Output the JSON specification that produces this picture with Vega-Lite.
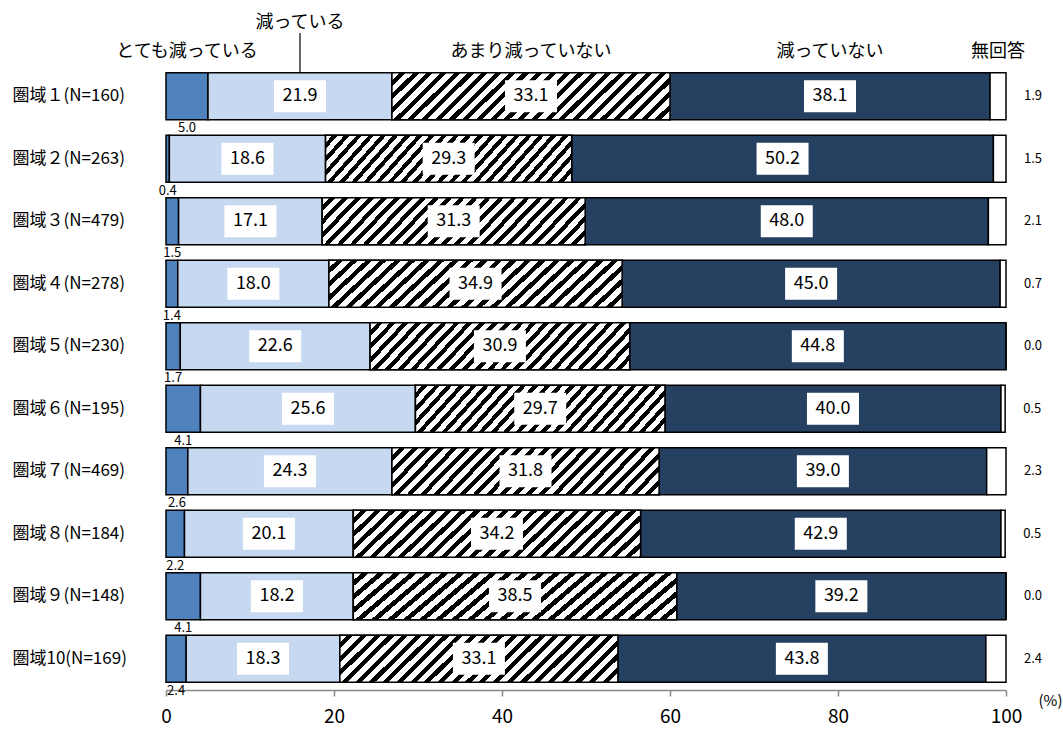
{
  "$schema": "https://vega.github.io/schema/vega-lite/v6.json",
  "width": 840,
  "height": 625,
  "autosize": "none",
  "padding": {"left": 166, "top": 65, "right": 57, "bottom": 40},
  "background": "white",
  "config": {"font": "Noto Sans CJK JP", "view": {"stroke": null}},
  "data": {"values": [
    {"region": "圏域１(N=160)", "とても減っている": 5.0, "減っている": 21.9, "あまり減っていない": 33.1, "減っていない": 38.1, "無回答": 1.9},
    {"region": "圏域２(N=263)", "とても減っている": 0.4, "減っている": 18.6, "あまり減っていない": 29.3, "減っていない": 50.2, "無回答": 1.5},
    {"region": "圏域３(N=479)", "とても減っている": 1.5, "減っている": 17.1, "あまり減っていない": 31.3, "減っていない": 48.0, "無回答": 2.1},
    {"region": "圏域４(N=278)", "とても減っている": 1.4, "減っている": 18.0, "あまり減っていない": 34.9, "減っていない": 45.0, "無回答": 0.7},
    {"region": "圏域５(N=230)", "とても減っている": 1.7, "減っている": 22.6, "あまり減っていない": 30.9, "減っていない": 44.8, "無回答": 0.0},
    {"region": "圏域６(N=195)", "とても減っている": 4.1, "減っている": 25.6, "あまり減っていない": 29.7, "減っていない": 40.0, "無回答": 0.5},
    {"region": "圏域７(N=469)", "とても減っている": 2.6, "減っている": 24.3, "あまり減っていない": 31.8, "減っていない": 39.0, "無回答": 2.3},
    {"region": "圏域８(N=184)", "とても減っている": 2.2, "減っている": 20.1, "あまり減っていない": 34.2, "減っていない": 42.9, "無回答": 0.5},
    {"region": "圏域９(N=148)", "とても減っている": 4.1, "減っている": 18.2, "あまり減っていない": 38.5, "減っていない": 39.2, "無回答": 0.0},
    {"region": "圏域10(N=169)", "とても減っている": 2.4, "減っている": 18.3, "あまり減っていない": 33.1, "減っていない": 43.8, "無回答": 2.4}
  ]},
  "transform": [
    {"fold": ["とても減っている", "減っている", "あまり減っていない", "減っていない", "無回答"], "as": ["key", "value"]},
    {"stack": "value", "groupby": ["region"], "as": ["x0", "x1"]}
  ],
  "layer": [
    {
      "mark": {"type": "bar", "stroke": "#000", "strokeWidth": 1.5},
      "encoding": {
        "y": {
          "field": "region", "type": "nominal", "sort": null,
          "scale": {"domain": ["圏域１(N=160)", "圏域２(N=263)", "圏域３(N=479)", "圏域４(N=278)", "圏域５(N=230)", "圏域６(N=195)", "圏域７(N=469)", "圏域８(N=184)", "圏域９(N=148)", "圏域10(N=169)"], "paddingInner": 0.25, "paddingOuter": 0.125},
          "axis": {"title": null, "domain": false, "ticks": false, "labelAlign": "left", "labelPadding": 154, "labelFontSize": 17, "labelColor": "#000", "labelFont": "Noto Sans CJK JP"}
        },
        "x": {
          "field": "x0", "type": "quantitative",
          "scale": {"domain": [0, 100], "nice": false},
          "axis": {"title": "(%)", "values": [0, 20, 40, 60, 80, 100], "grid": false, "domainColor": "#888", "domainWidth": 1.5, "tickColor": "#888", "tickSize": 6, "tickWidth": 1.5, "labelFontSize": 19, "labelColor": "#000", "labelPadding": 11, "labelFlush": false, "titleX": 884, "titleY": 10, "titleAlign": "center", "titleBaseline": "middle", "titleFontSize": 15, "titleFontWeight": "normal", "titleColor": "#000", "titleAngle": 0}
        },
        "x2": {"field": "x1"},
        "fill": {
          "field": "key", "type": "nominal",
          "scale": {"domain": ["とても減っている", "減っている", "あまり減っていない", "減っていない", "無回答"], "range": ["#4f81bd", "#c6d9f1", "#ffffff", "#254061", "#ffffff"]},
          "legend": null
        }
      }
    },
    {
      "transform": [{"filter": {"field": "key", "equal": "あまり減っていない"}}],
      "mark": {
        "type": "bar", "stroke": "#000", "strokeWidth": 1.5,
        "fill": {"gradient": "linear", "x1": 0, "y1": 0, "x2": 1.2, "y2": 0.205, "stops": [
          {"offset": 0, "color": "#fff"}, {"offset": 0.022, "color": "#fff"}, {"offset": 0.022, "color": "#000"}, {"offset": 0.04, "color": "#000"},
          {"offset": 0.04, "color": "#fff"}, {"offset": 0.062, "color": "#fff"}, {"offset": 0.062, "color": "#000"}, {"offset": 0.08, "color": "#000"},
          {"offset": 0.08, "color": "#fff"}, {"offset": 0.102, "color": "#fff"}, {"offset": 0.102, "color": "#000"}, {"offset": 0.12, "color": "#000"},
          {"offset": 0.12, "color": "#fff"}, {"offset": 0.142, "color": "#fff"}, {"offset": 0.142, "color": "#000"}, {"offset": 0.16, "color": "#000"},
          {"offset": 0.16, "color": "#fff"}, {"offset": 0.182, "color": "#fff"}, {"offset": 0.182, "color": "#000"}, {"offset": 0.2, "color": "#000"},
          {"offset": 0.2, "color": "#fff"}, {"offset": 0.222, "color": "#fff"}, {"offset": 0.222, "color": "#000"}, {"offset": 0.24, "color": "#000"},
          {"offset": 0.24, "color": "#fff"}, {"offset": 0.262, "color": "#fff"}, {"offset": 0.262, "color": "#000"}, {"offset": 0.28, "color": "#000"},
          {"offset": 0.28, "color": "#fff"}, {"offset": 0.302, "color": "#fff"}, {"offset": 0.302, "color": "#000"}, {"offset": 0.32, "color": "#000"},
          {"offset": 0.32, "color": "#fff"}, {"offset": 0.342, "color": "#fff"}, {"offset": 0.342, "color": "#000"}, {"offset": 0.36, "color": "#000"},
          {"offset": 0.36, "color": "#fff"}, {"offset": 0.382, "color": "#fff"}, {"offset": 0.382, "color": "#000"}, {"offset": 0.4, "color": "#000"},
          {"offset": 0.4, "color": "#fff"}, {"offset": 0.422, "color": "#fff"}, {"offset": 0.422, "color": "#000"}, {"offset": 0.44, "color": "#000"},
          {"offset": 0.44, "color": "#fff"}, {"offset": 0.462, "color": "#fff"}, {"offset": 0.462, "color": "#000"}, {"offset": 0.48, "color": "#000"},
          {"offset": 0.48, "color": "#fff"}, {"offset": 0.502, "color": "#fff"}, {"offset": 0.502, "color": "#000"}, {"offset": 0.52, "color": "#000"},
          {"offset": 0.52, "color": "#fff"}, {"offset": 0.542, "color": "#fff"}, {"offset": 0.542, "color": "#000"}, {"offset": 0.56, "color": "#000"},
          {"offset": 0.56, "color": "#fff"}, {"offset": 0.582, "color": "#fff"}, {"offset": 0.582, "color": "#000"}, {"offset": 0.6, "color": "#000"},
          {"offset": 0.6, "color": "#fff"}, {"offset": 0.622, "color": "#fff"}, {"offset": 0.622, "color": "#000"}, {"offset": 0.64, "color": "#000"},
          {"offset": 0.64, "color": "#fff"}, {"offset": 0.662, "color": "#fff"}, {"offset": 0.662, "color": "#000"}, {"offset": 0.68, "color": "#000"},
          {"offset": 0.68, "color": "#fff"}, {"offset": 0.702, "color": "#fff"}, {"offset": 0.702, "color": "#000"}, {"offset": 0.72, "color": "#000"},
          {"offset": 0.72, "color": "#fff"}, {"offset": 0.742, "color": "#fff"}, {"offset": 0.742, "color": "#000"}, {"offset": 0.76, "color": "#000"},
          {"offset": 0.76, "color": "#fff"}, {"offset": 0.782, "color": "#fff"}, {"offset": 0.782, "color": "#000"}, {"offset": 0.8, "color": "#000"},
          {"offset": 0.8, "color": "#fff"}, {"offset": 0.822, "color": "#fff"}, {"offset": 0.822, "color": "#000"}, {"offset": 0.84, "color": "#000"},
          {"offset": 0.84, "color": "#fff"}, {"offset": 0.862, "color": "#fff"}, {"offset": 0.862, "color": "#000"}, {"offset": 0.88, "color": "#000"},
          {"offset": 0.88, "color": "#fff"}, {"offset": 0.902, "color": "#fff"}, {"offset": 0.902, "color": "#000"}, {"offset": 0.92, "color": "#000"},
          {"offset": 0.92, "color": "#fff"}, {"offset": 0.942, "color": "#fff"}, {"offset": 0.942, "color": "#000"}, {"offset": 0.96, "color": "#000"},
          {"offset": 0.96, "color": "#fff"}, {"offset": 0.982, "color": "#fff"}, {"offset": 0.982, "color": "#000"}, {"offset": 1, "color": "#000"}
        ]}
      },
      "encoding": {
        "y": {"field": "region", "type": "nominal", "sort": null},
        "x": {"field": "x0", "type": "quantitative"},
        "x2": {"field": "x1"}
      }
    },
    {
      "transform": [
        {"fold": ["x0", "x1"], "as": ["edge", "pos"]},
        {"aggregate": [{"op": "mean", "field": "pos", "as": "mid"}, {"op": "max", "field": "pos", "as": "end"}], "groupby": ["region", "key", "value"]}
      ],
      "layer": [
        {
          "transform": [{"filter": {"field": "key", "oneOf": ["減っている", "あまり減っていない", "減っていない"]}}],
          "mark": {"type": "point", "shape": "M-1.625,-1L1.625,-1L1.625,1L-1.625,1Z", "size": 1024, "filled": true, "fill": "#ffffff", "opacity": 1, "strokeWidth": 0},
          "encoding": {
            "x": {"field": "mid", "type": "quantitative"},
            "y": {"field": "region", "type": "nominal", "sort": null}
          }
        },
        {
          "transform": [{"filter": {"field": "key", "oneOf": ["減っている", "あまり減っていない", "減っていない"]}}],
          "mark": {"type": "text", "fontSize": 18, "color": "#000", "align": "center", "baseline": "middle", "font": "Noto Sans CJK JP"},
          "encoding": {
            "x": {"field": "mid", "type": "quantitative"},
            "y": {"field": "region", "type": "nominal", "sort": null},
            "text": {"field": "value", "type": "quantitative", "format": ".1f"}
          }
        },
        {
          "transform": [{"filter": {"field": "key", "equal": "とても減っている"}}],
          "mark": {"type": "text", "fontSize": 13, "color": "#000", "align": "center", "baseline": "middle", "dy": 32, "font": "Noto Sans CJK JP"},
          "encoding": {
            "x": {"field": "mid", "type": "quantitative"},
            "y": {"field": "region", "type": "nominal", "sort": null},
            "text": {"field": "value", "type": "quantitative", "format": ".1f"}
          }
        },
        {
          "transform": [{"filter": {"field": "key", "equal": "無回答"}}],
          "mark": {"type": "text", "fontSize": 13, "color": "#000", "align": "center", "baseline": "middle", "dx": 27, "font": "Noto Sans CJK JP"},
          "encoding": {
            "x": {"field": "end", "type": "quantitative"},
            "y": {"field": "region", "type": "nominal", "sort": null},
            "text": {"field": "value", "type": "quantitative", "format": ".1f"}
          }
        },
        {
          "transform": [{"filter": "datum.region === '圏域１(N=160)' && datum.key !== '減っている'"}],
          "mark": {"type": "text", "fontSize": 18, "color": "#000", "align": "center", "baseline": "middle", "dy": -44, "font": "Noto Sans CJK JP"},
          "encoding": {
            "x": {"field": "mid", "type": "quantitative"},
            "y": {"field": "region", "type": "nominal", "sort": null},
            "text": {"field": "key", "type": "nominal"}
          }
        },
        {
          "transform": [{"filter": "datum.region === '圏域１(N=160)' && datum.key === '減っている'"}],
          "mark": {"type": "text", "fontSize": 18, "color": "#000", "align": "center", "baseline": "middle", "dy": -73, "font": "Noto Sans CJK JP"},
          "encoding": {
            "x": {"field": "mid", "type": "quantitative"},
            "y": {"field": "region", "type": "nominal", "sort": null},
            "text": {"field": "key", "type": "nominal"}
          }
        },
        {
          "transform": [{"filter": "datum.region === '圏域１(N=160)' && datum.key === '減っている'"}],
          "mark": {"type": "point", "shape": "M0,-1L0,1", "size": 1521, "filled": false, "stroke": "#000", "strokeWidth": 1.2, "opacity": 1, "yOffset": -43.75},
          "encoding": {
            "x": {"field": "mid", "type": "quantitative"},
            "y": {"field": "region", "type": "nominal", "sort": null}
          }
        }
      ]
    }
  ]
}
